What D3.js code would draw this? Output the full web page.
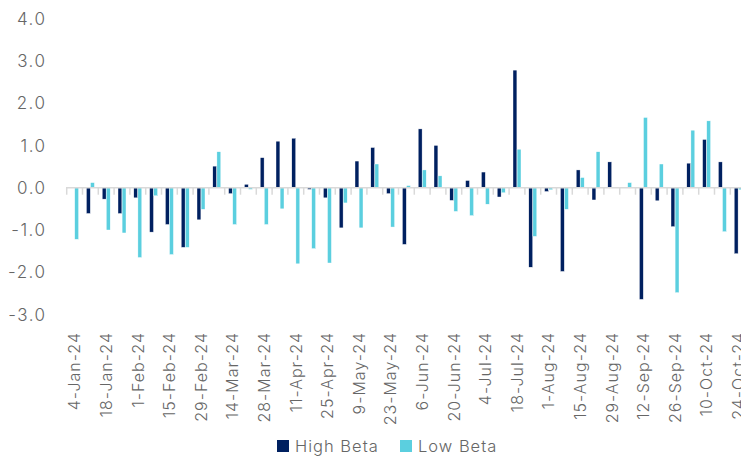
<!DOCTYPE html>
<html><head><meta charset="utf-8">
<script src="https://cdn.jsdelivr.net/npm/d3@7"></script>
<style>
html,body{margin:0;padding:0;background:#fff;}
svg text{font-family:"Inter","DejaVu Sans",sans-serif;font-weight:300;fill:#666;}
</style></head>
<body><svg id="c" width="741" height="459"></svg>
<script>
const dates = ["4-Jan-24","11-Jan-24","18-Jan-24","25-Jan-24","1-Feb-24","8-Feb-24","15-Feb-24","22-Feb-24","29-Feb-24","7-Mar-24","14-Mar-24","21-Mar-24","28-Mar-24","4-Apr-24","11-Apr-24","18-Apr-24","25-Apr-24","2-May-24","9-May-24","16-May-24","23-May-24","30-May-24","6-Jun-24","13-Jun-24","20-Jun-24","27-Jun-24","4-Jul-24","11-Jul-24","18-Jul-24","25-Jul-24","1-Aug-24","8-Aug-24","15-Aug-24","22-Aug-24","29-Aug-24","5-Sep-24","12-Sep-24","19-Sep-24","26-Sep-24","3-Oct-24","10-Oct-24","17-Oct-24","24-Oct-24"];
const highBeta = [0.0,-0.61,-0.27,-0.61,-0.24,-1.05,-0.87,-1.41,-0.76,0.51,-0.14,0.08,0.71,1.10,1.17,-0.04,-0.24,-0.95,0.63,0.95,-0.14,-1.34,1.39,1.00,-0.30,0.17,0.37,-0.22,2.78,-1.88,-0.09,-1.98,0.42,-0.29,0.61,0.0,-2.64,-0.31,-0.92,0.58,1.14,0.61,-1.56];
const lowBeta = [-1.22,0.12,-1.00,-1.07,-1.65,-0.19,-1.58,-1.41,-0.51,0.85,-0.87,-0.04,-0.87,-0.50,-1.80,-1.44,-1.78,-0.36,-0.95,0.56,-0.93,0.05,0.42,0.28,-0.56,-0.66,-0.39,-0.12,0.91,-1.15,-0.05,-0.51,0.24,0.85,0.0,0.12,1.66,0.56,-2.48,1.36,1.58,-1.04,-0.05];
const seriesNames = ["High Beta","Low Beta"];
const seriesColors = ["#002060","#5bcfdf"];
const yTicks = [4,3,2,1,0,-1,-2,-3];

const svg = d3.select("#c");
const x0 = d3.scaleBand().domain(dates).range([66.7, 746.1]).padding(0);
const x1 = d3.scaleBand().domain(seriesNames).range([0, x0.bandwidth()]).paddingInner(0.05).paddingOuter(0.95);
const y = d3.scaleLinear().domain([-3,4]).range([314.6, 18.5]);

// y labels
svg.append("g").selectAll("text").data(yTicks).join("text")
  .attr("x", 46.5).attr("y", d => y(d)).attr("dy","0.36em")
  .attr("text-anchor","end").style("font-size","17px").style("letter-spacing","1.5px")
  .text(d => d.toFixed(1));

const data = [highBeta, lowBeta];
const g = svg.append("g");
data.forEach((vals, si) => {
  g.selectAll(null).data(vals.map((v,i)=>({v, d: dates[i]}))).join("rect")
    .attr("x", d => x0(d.d) + x1(seriesNames[si]))
    .attr("width", x1.bandwidth())
    .attr("y", d => Math.min(y(d.v), y(0)))
    .attr("height", d => Math.abs(y(d.v) - y(0)))
    .attr("fill", seriesColors[si])
    .attr("stroke", "#fff").attr("stroke-width", 0.4);
});

// zero line + ticks
svg.append("line").attr("x1", 66).attr("x2", 741).attr("y1", y(0)).attr("y2", y(0))
  .attr("stroke","#d9d9d9").attr("stroke-width",1.5);
svg.append("g").selectAll("line").data(dates).join("line")
  .attr("x1", d => x0(d)).attr("x2", d => x0(d))
  .attr("y1", y(0)).attr("y2", y(0)+7)
  .attr("stroke","#d9d9d9").attr("stroke-width",1.5);

// x labels
svg.append("g").selectAll("text").data(dates.filter((d,i)=>i%2===0)).join("text")
  .attr("transform", d => `translate(${x0(d)+x0.bandwidth()/2},332) rotate(-90)`)
  .attr("dy","0.36em").attr("text-anchor","end")
  .style("font-size","16px").style("letter-spacing","1px")
  .text(d => d);

// legend
const leg = svg.append("g");
const legX = [277, 400];
seriesNames.forEach((s,i) => {
  leg.append("rect").attr("x", legX[i]).attr("y", 440).attr("width", 12).attr("height", 12).attr("fill", seriesColors[i]);
  leg.append("text").attr("x", legX[i]+18).attr("y", 446).attr("dy","0.36em")
    .style("font-size","16.5px").style("letter-spacing","1px").text(s);
});
</script></body></html>
